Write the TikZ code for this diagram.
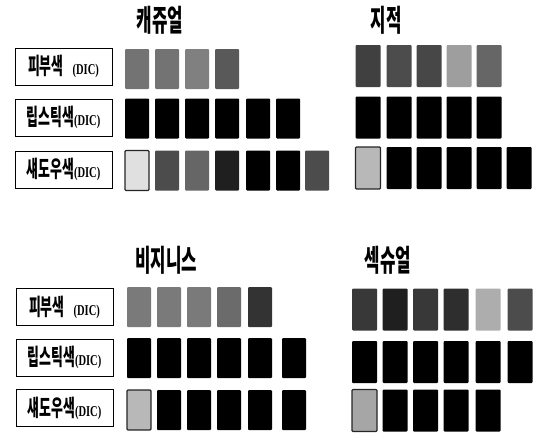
\documentclass[tikz,border=0pt]{standalone}
\usepackage{fontspec}
\usepackage{graphicx}
\newfontfamily\cjk{Noto Sans CJK KR Black}
\newfontfamily\dicfont{Liberation Serif}
\tikzset{
  sw/.style={rectangle, minimum width=24pt, minimum height=40pt, inner sep=0pt, rounded corners=1pt, fill=#1},
  swl/.style={sw=#1, draw=black!85, line width=1.1pt},
  lab/.style={draw, line width=0.8pt, minimum width=97pt, minimum height=37pt, inner sep=0pt},
  ttl/.style={inner sep=0pt, font=\cjk\fontsize{30}{30}\selectfont},
}
\newcommand{\kl}[1]{\scalebox{0.56}[1]{\cjk\fontsize{23}{23}\selectfont #1}}
\newcommand{\dic}{\scalebox{0.7}[1]{\dicfont\bfseries\fontsize{15}{15}\selectfont (DIC)}}
\begin{document}
\begin{tikzpicture}[x=1pt,y=-1pt]
\useasboundingbox (0,0) rectangle (534,439);
% titles
\node[ttl] (t1) at (160,20) {\scalebox{0.56}[1]{캐쥬얼}};
\node[ttl] (t2) at (386,20) {\scalebox{0.56}[1]{지적}};
\node[ttl] (t3) at (166,260) {\scalebox{0.56}[1]{비지니스}};
\node[ttl] (t4) at (388,260) {\scalebox{0.56}[1]{섹슈얼}};
% labels top
\node[lab] (la1) at (63.5,66.5) {\kl{피부색}\hspace{9pt}\dic};
\node[lab] (la2) at (63.5,117.5) {\kl{립스틱색}\dic};
\node[lab] (la3) at (63.5,169.5) {\kl{섀도우색}\dic};
% labels bottom
\node[lab] (lb1) at (64.5,307) {\kl{피부색}\hspace{9pt}\dic};
\node[lab] (lb2) at (64.5,357.5) {\kl{립스틱색}\dic};
\node[lab] (lb3) at (64.5,408) {\kl{섀도우색}\dic};
% casual
\foreach \x/\gv [count=\i] in {137/55,167/55,197/50,227/65}
  \node[sw=black!\gv] (ca1-\i) at (\x,69) {};
\foreach \x [count=\i] in {137,167,197,227,258,288}
  \node[sw=black] (ca2-\i) at (\x,118.5) {};
\node[swl=black!12] (ca3-1) at (137,170.5) {};
\foreach \x/\gv [count=\i from 2] in {167/70,197/60,227/88,258/100,288/100,317/70}
  \node[sw=black!\gv] (ca3-\i) at (\x,170.5) {};
% intellectual
\foreach \x/\gv [count=\i] in {368/75,399/70,429/72,459/38,489/60}
  \node[sw=black!\gv, minimum width=25pt, minimum height=42pt] (in1-\i) at (\x,66) {};
\foreach \x [count=\i] in {368,399,429,459,489}
  \node[sw=black, minimum width=25pt, minimum height=42pt] (in2-\i) at (\x,117.5) {};
\node[swl=black!28, minimum width=25pt, minimum height=42pt] (in3-1) at (368,168) {};
\foreach \x [count=\i from 2] in {399,429,459,489,519}
  \node[sw=black, minimum width=25pt, minimum height=42pt] (in3-\i) at (\x,168) {};
% business
\foreach \x/\gv [count=\i] in {139/52,169/52,199/52,229/58,260/80}
  \node[sw=black!\gv] (bu1-\i) at (\x,307) {};
\foreach \x [count=\i] in {139,169,199,229,260,294}
  \node[sw=black] (bu2-\i) at (\x,358) {};
\node[swl=black!28] (bu3-1) at (139,410) {};
\foreach \x [count=\i from 2] in {169,199,229,260,294}
  \node[sw=black] (bu3-\i) at (\x,410) {};
% sexual
\foreach \x/\gv [count=\i] in {364.5/78,395/88,425.5/78,456/82,488/32,520/70}
  \node[sw=black!\gv, minimum width=25pt, minimum height=42pt] (se1-\i) at (\x,309.5) {};
\foreach \x [count=\i] in {364.5,395,425.5,456,488,520}
  \node[sw=black, minimum width=25pt, minimum height=42pt] (se2-\i) at (\x,362) {};
\node[swl=black!35, minimum width=25pt, minimum height=42pt] (se3-1) at (364.5,410.5) {};
\foreach \x [count=\i from 2] in {395,425.5,456,488}
  \node[sw=black, minimum width=25pt, minimum height=42pt] (se3-\i) at (\x,410.5) {};
\end{tikzpicture}
\end{document}
